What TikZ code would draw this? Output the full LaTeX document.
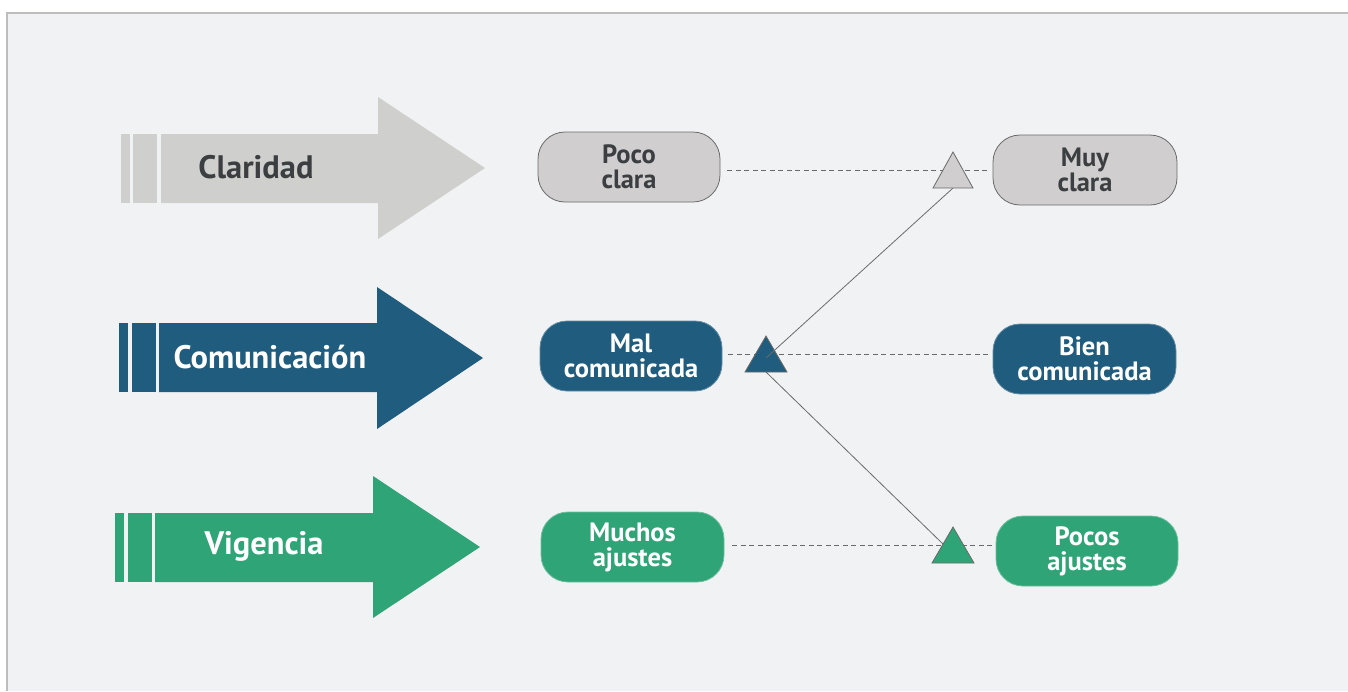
\documentclass[tikz,border=0pt]{standalone}
\usepackage{fontspec}
\setmainfont{PT Sans}
\definecolor{panel}{HTML}{F1F2F4}
\definecolor{frame}{HTML}{BDBDBD}
\definecolor{grayA}{HTML}{CFCFCD}
\definecolor{grayB}{HTML}{D0CECE}
\definecolor{blueA}{HTML}{1F5C7D}
\definecolor{greenA}{HTML}{2FA476}
\definecolor{darktxt}{HTML}{3C3F41}
\definecolor{linec}{HTML}{6A6A6A}
\begin{document}
\begin{tikzpicture}[x=1pt,y=-1pt,
  arrowtxt/.style={font=\bfseries\fontsize{32.5}{34}\selectfont, inner sep=0pt},
  box/.style={rounded corners=27pt, minimum width=182pt, minimum height=70pt, inner sep=0pt, align=center,
    font=\bfseries\fontsize{26.5}{25}\selectfont, line width=0.8pt},
  dashline/.style={draw=linec, line width=0.9pt, dash pattern=on 5pt off 3.5pt},
  solidline/.style={draw=linec, line width=0.8pt},
  tri/.style={draw=linec, line width=0.8pt, line join=miter}
]
\useasboundingbox (0,0) rectangle (1348,691);
\fill[white] (0,0) rectangle (1348,691);
\fill[panel] (7,13) rectangle (1348,691);
\draw[frame, line width=1.5pt] (7,691) -- (7,13) -- (1348,13);

% Arrow 1: Claridad
\fill[grayA] (121,134) rectangle (130,203);
\fill[grayA] (133,134) rectangle (157,203);
\fill[grayA] (161,134) -- (378,134) -- (378,97) -- (485,168) -- (378,239) -- (378,203) -- (161,203) -- cycle;
\node[arrowtxt, text=darktxt] (aclar) at (256,167) {Claridad};

% Arrow 2: Comunicación
\fill[blueA] (119,323) rectangle (128,392);
\fill[blueA] (132,323) rectangle (156,392);
\fill[blueA] (159,323) -- (377,323) -- (377,287) -- (483,358) -- (377,429) -- (377,392) -- (159,392) -- cycle;
\node[arrowtxt, text=white] (acom) at (270,357) {Comunicación};

% Arrow 3: Vigencia
\fill[greenA] (115,513) rectangle (124,582);
\fill[greenA] (128,513) rectangle (152,582);
\fill[greenA] (155,513) -- (373,513) -- (373,476) -- (480,547) -- (373,618) -- (373,582) -- (155,582) -- cycle;
\node[arrowtxt, text=white] (avig) at (264,546) {Vigencia};

% Boxes
\node[box, fill=grayB, draw=linec, text=darktxt] (pc) at (629,167) {Poco\\clara};
\node[box, fill=grayB, draw=linec, text=darktxt, minimum width=184pt] (mc) at (1085,170) {Muy\\clara};
\node[box, fill=blueA, draw=blueA!70!white, text=white] (malc) at (631,356) {Mal\\comunicada};
\node[box, fill=blueA, draw=blueA!70!white, text=white, minimum width=183pt] (bienc) at (1084.5,359) {Bien\\comunicada};
\node[box, fill=greenA, draw=greenA!70!white, text=white, minimum width=183pt] (much) at (632.5,547) {Muchos\\ajustes};
\node[box, fill=greenA, draw=greenA!70!white, text=white] (poc) at (1087,551) {Pocos\\ajustes};

% triangle anchor coordinates
\coordinate (t1) at (953,170);
\coordinate (t2) at (766,354);
\coordinate (t3) at (953,545);
\coordinate (t1b) at (953,188);
\coordinate (t2c) at (766,358);
\coordinate (t2b) at (766,372);
\coordinate (t3l) at (944,545);

% dashed lines
\draw[dashline] ([xshift=7pt]pc.east |- t1) -- ([xshift=-2pt]mc.west |- t1);
\draw[dashline] ([xshift=6pt]malc.east |- t2) -- ([xshift=-3pt]bienc.west |- t2);
\draw[dashline] ([xshift=8pt]much.east |- t3) -- ([xshift=-2pt]poc.west |- t3);

% lower connector (behind triangles)
\draw[solidline] (t2b) -- (t3l);
% triangle 2
\draw[tri, fill=blueA] (745,372) -- (766,336) -- (787,372) -- cycle;
% upper connector (over triangle 2)
\draw[solidline] (t2c) -- (t1b);
% triangle 1 and 3
\draw[tri, fill=grayB] (933,188) -- (953,152) -- (973,188) -- cycle;
\draw[tri, fill=greenA] (932,563) -- (953,527) -- (974,563) -- cycle;
\end{tikzpicture}
\end{document}
